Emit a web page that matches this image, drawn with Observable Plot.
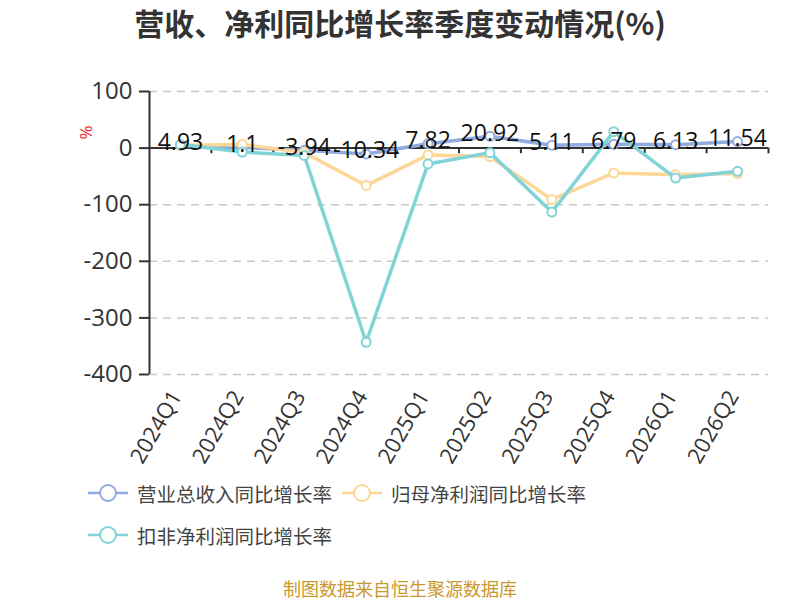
<!DOCTYPE html>
<html>
<head>
<meta charset="utf-8">
<script src="https://cdn.jsdelivr.net/npm/d3@7"></script>
<script src="https://cdn.jsdelivr.net/npm/@observablehq/plot@0.6"></script>
<style>
  html, body { margin: 0; padding: 0; background: #fff; }
  body { width: 800px; height: 600px; position: relative; overflow: hidden; font-family: "Noto Sans CJK SC", sans-serif; }
  #title { position: absolute; left: 0; top: 2px; width: 800px; text-align: center; font-size: 30px; font-weight: bold; color: #333; line-height: 40px; }
  #chart { position: absolute; left: 0; top: 50px; }
  #unit { position: absolute; left: 78px; top: 121px; color: #e8262b; font-size: 17px; transform: rotate(-90deg); transform-origin: center; font-family: "Open Sans", sans-serif; }
  .leg { position: absolute; display: flex; align-items: center; font-size: 19.5px; color: #444; height: 30px; }
  .leg svg { margin-right: 9px; }
  #caption { position: absolute; left: 0; top: 576px; width: 800px; text-align: center; font-size: 18px; color: #c9982c; line-height: 24px; }
</style>
</head>
<body>
<div id="title">营收、净利同比增长率季度变动情况(%)</div>
<div id="chart"></div>
<div id="unit">%</div>
<div id="legend"></div>
<div id="caption">制图数据来自恒生聚源数据库</div>
<script>
const quarters = ["2024Q1","2024Q2","2024Q3","2024Q4","2025Q1","2025Q2","2025Q3","2025Q4","2026Q1","2026Q2"];
const revenue = [4.93, 1.1, -3.94, -10.34, 7.82, 20.92, 5.11, 6.79, 6.13, 11.54];
const netProfit = [5, 6.5, -8, -66, -12, -15, -91, -44, -47, -45];
const deductedProfit = [6.5, -7, -13, -343, -28, -8, -113, 29, -53, -41];
const yTicks = [100, 0, -100, -200, -300, -400];
const seriesNames = ["营业总收入同比增长率", "归母净利润同比增长率", "扣非净利润同比增长率"];
const seriesColors = ["#8fabe0", "#fdd795", "#80d4d7"];

const latin = "'Open Sans', 'Noto Sans CJK SC', sans-serif";
const idx = quarters.map((_, i) => i);
const boundaries = quarters.map((_, i) => i + 0.5);
const mk = arr => arr.map((v, i) => ({i, v}));
const series = [mk(revenue), mk(netProfit), mk(deductedProfit)];

const marks = [
  Plot.gridY(yTicks.filter(t => t !== 0), {stroke: "#c8c8c8", strokeOpacity: 1, strokeDasharray: "8,6", strokeWidth: 1.5}),
  Plot.axisY(yTicks, {tickSize: 10, tickPadding: 7, fontSize: 24, fill: "#333", stroke: "#333", strokeWidth: 2, label: null, tickFormat: d => String(d)}),
  Plot.text(idx, {x: d => d, frameAnchor: "bottom", text: i => quarters[i], rotate: -60, textAnchor: "end", lineAnchor: "middle", dx: -4, dy: 18, fontSize: 22, fill: "#333"}),
  Plot.ruleX([-0.5], {stroke: "#333", strokeWidth: 2}),
  Plot.ruleY([0], {stroke: "#333", strokeWidth: 2}),
  Plot.ruleX(boundaries, {y1: 0, y2: -10, stroke: "#333", strokeWidth: 2})
];
series.forEach((s, k) => {
  marks.push(Plot.line(s, {x: "i", y: "v", stroke: seriesColors[k], strokeWidth: 3.5}));
  marks.push(Plot.dot(s, {x: "i", y: "v", r: 4.5, fill: "#fff", stroke: seriesColors[k], strokeWidth: 2}));
});
marks.push(Plot.text(series[0], {x: "i", y: "v", text: d => String(d.v), dy: -3, fontSize: 23, fill: "#111"}));

const chart = Plot.plot({
  width: 800,
  height: 430,
  marginLeft: 149,
  marginRight: 32,
  marginTop: 41,
  marginBottom: 106,
  style: {fontFamily: latin, background: "transparent", overflow: "visible"},
  x: {type: "linear", domain: [-0.5, 9.5], axis: null},
  y: {domain: [-400, 100], axis: null},
  marks
});
document.getElementById("chart").appendChild(chart);

const legendPos = [{left: 88, top: 478}, {left: 342, top: 478}, {left: 88, top: 520}];
const legend = document.getElementById("legend");
seriesNames.forEach((name, k) => {
  const div = document.createElement("div");
  div.className = "leg";
  div.style.left = legendPos[k].left + "px";
  div.style.top = legendPos[k].top + "px";
  const c = seriesColors[k];
  div.innerHTML = `<svg width="40" height="22"><line x1="0" y1="11" x2="40" y2="11" stroke="${c}" stroke-width="2.5"/><circle cx="20" cy="11" r="8" fill="#fff" stroke="${c}" stroke-width="2"/></svg><span>${name}</span>`;
  legend.appendChild(div);
});
</script>
</body>
</html>
